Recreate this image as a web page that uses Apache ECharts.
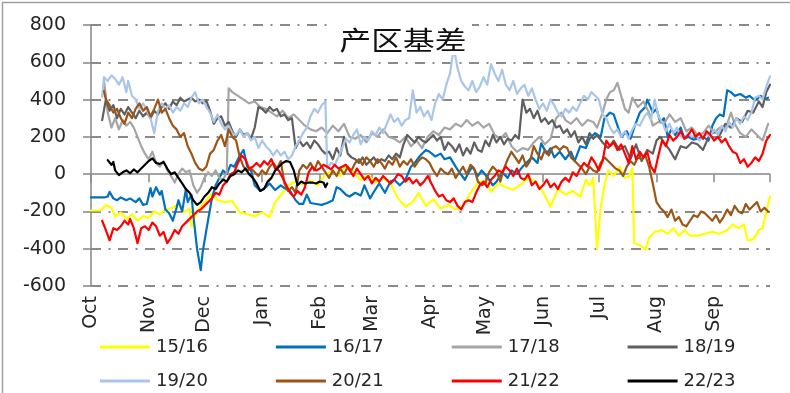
<!DOCTYPE html>
<html>
<head>
<meta charset="utf-8">
<script src="https://cdn.jsdelivr.net/npm/echarts@6/dist/echarts.min.js"></script>
<style>
  html, body { margin: 0; padding: 0; background: #ffffff; }
  #chart { width: 790px; height: 393px; }
</style>
</head>
<body>
<div id="chart"></div>
<script>
// Producing-area basis by season, x = day of the season counted from 1 Oct.
const seasonNames = ['15/16', '16/17', '17/18', '18/19', '19/20', '20/21', '21/22', '22/23'];
const monthNames = ['Oct', 'Nov', 'Dec', 'Jan', 'Feb', 'Mar', 'Apr', 'May', 'Jun', 'Jul', 'Aug', 'Sep'];
const monthStartDays = [0, 31, 61, 92, 123, 151, 182, 212, 243, 273, 304, 335];
const seasonEndDay = 365;
const yMin = -600, yMax = 800, yStep = 200;

const s1516 = [[0,-195],[5,-195],[8,-165],[11,-180],[13,-228],[16,-205],[19,-240],[22,-215],[25,-250],[28,-225],[31,-235],[34,-200],[37,-215],[40,-190],[44,-180],[47,-160],[50,-205],[53,-185],[54,-280],[57,-200],[61,-150],[65,-105],[68,-140],[72,-150],[76,-145],[80,-205],[84,-215],[88,-225],[92,-205],[96,-230],[99,-150],[103,-100],[106,-60],[110,-40],[114,-55],[118,-35],[122,-60],[126,0],[130,15],[134,-10],[137,50],[141,10],[145,-30],[149,-5],[153,-45],[157,-20],[161,-50],[165,-130],[169,-175],[173,-150],[176,-100],[180,-170],[184,-135],[188,-185],[192,-165],[196,-190],[200,-170],[204,-100],[208,-45],[212,-35],[215,-95],[219,-50],[223,-70],[227,-85],[231,-55],[235,-20],[239,-40],[243,-95],[247,-175],[251,-80],[255,-110],[259,-90],[263,-120],[266,-30],[268,-60],[270,-20],[272,-400],[274,-180],[276,-60],[278,20],[281,-10],[284,40],[287,-20],[289,-15],[291,30],[292,-370],[295,-380],[298,-405],[300,-340],[303,-310],[307,-300],[310,-320],[313,-290],[316,-330],[319,-300],[322,-330],[326,-330],[330,-320],[334,-310],[338,-320],[342,-300],[345,-270],[348,-290],[351,-270],[353,-355],[356,-350],[359,-300],[361,-290],[363,-200],[365,-120]];

const s1617 = [[0,-125],[4,-125],[7,-125],[9,-120],[10,-95],[12,-130],[14,-140],[16,-125],[19,-140],[21,-130],[24,-150],[26,-130],[28,-165],[30,-160],[32,-75],[33,-120],[35,-70],[37,-110],[38,-90],[40,-190],[42,-210],[44,-250],[46,-180],[47,-140],[49,-200],[51,-80],[52,-150],[54,-110],[55,-220],[57,-400],[59,-515],[60,-420],[62,-300],[63,-310],[65,-130],[67,-60],[69,-20],[71,20],[73,0],[75,50],[77,40],[80,100],[82,130],[84,40],[86,20],[88,-60],[91,-90],[94,-70],[96,-50],[99,-85],[102,-60],[104,-75],[107,-90],[110,-140],[112,-160],[114,-160],[116,-110],[118,-155],[121,-160],[124,-165],[127,-155],[130,-140],[132,-70],[134,-80],[137,-110],[139,-120],[142,-100],[145,-115],[147,-60],[150,-130],[153,-80],[155,-50],[158,-100],[161,-40],[163,-30],[166,-60],[169,-30],[172,40],[174,60],[177,100],[180,130],[182,120],[185,95],[188,110],[190,80],[193,90],[196,40],[198,10],[201,-30],[203,10],[205,40],[208,-10],[210,20],[213,-15],[216,-60],[218,-40],[221,10],[224,-20],[226,20],[229,0],[232,40],[234,60],[237,90],[240,60],[242,165],[245,110],[247,140],[249,90],[252,120],[255,80],[258,120],[260,70],[263,150],[266,140],[268,190],[271,220],[274,200],[276,300],[279,330],[281,320],[283,260],[285,200],[288,230],[290,190],[292,250],[295,330],[298,360],[299,400],[302,330],[304,350],[306,280],[308,300],[310,200],[312,240],[314,210],[317,250],[319,190],[321,200],[324,185],[326,190],[329,200],[332,180],[334,260],[336,300],[338,320],[340,310],[342,450],[344,440],[346,420],[349,430],[352,410],[354,420],[357,395],[360,420],[362,400],[364,410]];

const s1718 = [[7,500],[9,330],[11,250],[13,300],[15,240],[17,290],[19,260],[21,280],[23,250],[25,200],[27,150],[29,110],[31,80],[33,120],[35,60],[37,40],[39,70],[41,20],[43,-10],[45,-45],[47,0],[49,30],[51,10],[53,20],[55,-60],[57,-100],[59,-70],[61,-20],[63,10],[65,-10],[67,20],[69,-20],[71,-30],[73,10],[74,460],[76,440],[79,420],[82,400],[85,380],[88,390],[91,360],[94,350],[97,330],[100,310],[103,340],[106,300],[109,320],[112,290],[115,260],[118,240],[121,230],[124,250],[127,220],[130,260],[133,230],[136,270],[139,200],[142,190],[145,210],[148,170],[151,220],[154,200],[157,240],[160,200],[163,190],[166,170],[169,200],[172,150],[175,180],[178,140],[181,200],[184,230],[187,210],[190,250],[193,240],[196,270],[199,255],[202,290],[205,260],[208,280],[211,250],[214,270],[217,210],[220,190],[223,220],[226,150],[229,120],[232,140],[235,130],[238,170],[241,200],[244,160],[247,190],[250,300],[253,330],[255,290],[258,270],[261,300],[264,260],[267,290],[270,280],[272,250],[275,330],[277,400],[279,440],[281,450],[283,490],[285,420],[287,350],[289,330],[291,410],[294,360],[297,390],[300,330],[302,260],[305,280],[308,270],[311,320],[314,280],[317,300],[320,230],[323,250],[326,210],[329,220],[332,260],[335,220],[338,250],[341,240],[344,330],[346,270],[349,220],[352,200],[355,240],[358,210],[361,180],[364,270]];

const s1819 = [[6,290],[8,400],[10,340],[12,370],[14,300],[16,350],[18,320],[20,360],[22,330],[24,300],[26,340],[28,310],[30,330],[32,300],[34,340],[36,320],[38,360],[40,380],[42,350],[44,390],[46,370],[48,410],[50,390],[52,400],[54,410],[56,390],[58,400],[60,380],[62,395],[64,340],[66,270],[68,300],[70,310],[72,260],[74,280],[76,230],[78,200],[80,240],[82,210],[84,220],[86,190],[88,250],[90,360],[92,350],[94,330],[96,360],[98,340],[100,350],[102,310],[104,320],[106,290],[108,300],[110,140],[112,180],[114,150],[116,170],[118,140],[120,180],[122,160],[124,130],[126,110],[128,120],[130,80],[132,140],[134,100],[136,200],[138,110],[140,90],[142,80],[144,60],[146,90],[148,50],[150,70],[152,90],[154,60],[156,80],[158,70],[160,100],[162,80],[164,110],[166,90],[168,160],[170,210],[172,190],[174,170],[176,200],[178,180],[180,170],[182,190],[184,210],[186,180],[188,200],[190,130],[192,170],[194,150],[196,120],[198,160],[200,100],[202,140],[204,110],[206,170],[208,130],[210,120],[212,180],[214,150],[216,210],[218,170],[220,200],[222,160],[224,190],[226,180],[228,210],[230,190],[232,400],[234,330],[236,350],[238,300],[240,340],[242,280],[244,300],[246,270],[248,290],[250,250],[252,260],[254,220],[256,240],[258,200],[260,230],[262,170],[264,200],[266,160],[268,220],[270,190],[272,210],[275,170],[278,140],[281,180],[284,130],[287,150],[290,80],[293,160],[296,70],[299,130],[302,110],[304,180],[306,200],[308,170],[311,130],[314,80],[317,150],[320,140],[323,170],[326,160],[329,130],[332,200],[335,230],[338,210],[341,270],[344,250],[347,300],[350,280],[353,340],[356,330],[359,390],[361,360],[363,440],[365,480]];

const s1920 = [[6,415],[7,520],[9,500],[11,530],[13,510],[15,480],[17,520],[19,440],[20,500],[22,420],[24,400],[26,350],[28,380],[30,340],[32,300],[34,220],[36,340],[38,380],[40,350],[42,370],[44,330],[46,360],[48,340],[50,380],[52,360],[54,410],[56,440],[58,380],[60,400],[62,360],[64,330],[66,280],[68,320],[70,270],[72,240],[74,260],[76,220],[78,210],[80,240],[82,200],[84,220],[86,180],[88,200],[90,140],[92,180],[94,150],[96,130],[98,100],[100,130],[102,100],[104,120],[106,80],[108,100],[110,150],[112,180],[114,220],[116,250],[118,310],[120,350],[122,330],[124,370],[126,390],[127,30],[129,60],[131,50],[133,90],[135,140],[137,190],[139,170],[141,210],[143,240],[145,160],[147,200],[149,180],[151,230],[153,210],[155,250],[157,220],[159,270],[161,320],[163,280],[165,300],[167,260],[169,290],[171,300],[173,450],[175,330],[177,360],[179,310],[181,340],[183,290],[185,380],[187,430],[189,400],[191,480],[193,540],[195,680],[197,570],[199,500],[201,470],[203,450],[205,500],[207,440],[209,470],[211,520],[213,480],[215,590],[217,540],[219,500],[221,560],[223,480],[225,450],[227,500],[229,430],[231,460],[233,480],[235,420],[237,460],[239,400],[241,350],[243,380],[245,340],[247,400],[249,370],[251,330],[253,310],[255,350],[257,330],[259,360],[261,340],[263,380],[265,420],[267,400],[269,440],[271,420],[273,400],[275,320],[277,300],[279,250],[281,220],[283,240],[285,200],[287,230],[289,190],[291,240],[293,270],[295,260],[297,300],[299,330],[301,290],[303,400],[305,310],[307,280],[309,230],[311,270],[313,220],[315,250],[317,200],[319,190],[321,220],[323,200],[325,210],[327,180],[329,200],[331,220],[333,200],[335,240],[337,210],[339,260],[341,230],[343,280],[345,250],[347,300],[349,270],[351,310],[353,290],[355,330],[357,410],[359,420],[361,400],[363,470],[365,525]];

const s2021 = [[7,445],[8,400],[10,370],[12,330],[14,350],[16,300],[18,270],[20,330],[22,300],[24,350],[26,380],[28,340],[30,360],[32,310],[34,350],[36,400],[38,330],[40,350],[42,300],[44,260],[46,240],[48,200],[50,220],[52,150],[54,110],[56,60],[58,30],[60,20],[62,40],[64,110],[66,130],[68,180],[70,210],[72,150],[74,240],[76,200],[78,180],[80,90],[82,40],[84,20],[86,30],[88,10],[90,-10],[92,20],[94,0],[96,40],[98,60],[100,30],[102,70],[104,-50],[106,-90],[108,-70],[110,-100],[112,20],[114,50],[116,30],[118,60],[120,20],[122,70],[124,40],[126,10],[128,-20],[130,20],[132,-10],[134,30],[136,0],[138,40],[140,20],[142,60],[144,80],[146,50],[148,90],[150,70],[152,40],[154,80],[156,60],[158,30],[160,70],[162,50],[164,90],[166,40],[168,70],[170,50],[172,80],[174,40],[176,70],[178,90],[180,80],[182,60],[184,20],[186,-10],[188,30],[190,10],[192,0],[194,30],[196,-20],[198,10],[200,40],[202,0],[204,50],[206,30],[208,-40],[210,-60],[212,-50],[214,10],[216,40],[218,20],[220,-40],[222,30],[224,80],[226,120],[228,90],[230,60],[232,100],[234,40],[236,70],[238,150],[240,110],[242,80],[244,130],[246,100],[248,140],[250,150],[252,130],[254,150],[256,140],[258,90],[260,70],[262,50],[264,30],[266,0],[268,40],[270,20],[272,10],[274,60],[276,90],[278,70],[280,50],[282,30],[284,20],[286,-10],[288,40],[290,70],[292,50],[294,90],[296,80],[298,100],[300,40],[302,-50],[304,-150],[306,-180],[308,-200],[310,-230],[312,-190],[314,-250],[316,-230],[318,-270],[320,-280],[322,-250],[324,-220],[326,-230],[328,-200],[330,-210],[332,-230],[334,-250],[336,-220],[338,-260],[340,-230],[342,-190],[344,-220],[346,-170],[348,-200],[350,-210],[352,-160],[354,-190],[356,-170],[358,-150],[360,-200],[362,-180],[364,-200]];

const s2122 = [[6,-250],[8,-300],[10,-355],[12,-290],[14,-300],[16,-280],[18,-250],[20,-270],[21,-240],[23,-290],[25,-370],[27,-290],[29,-280],[31,-300],[33,-260],[35,-280],[37,-330],[39,-310],[41,-370],[43,-340],[45,-300],[47,-320],[49,-280],[51,-260],[53,-240],[55,-220],[57,-200],[59,-190],[61,-170],[63,-150],[65,-130],[67,-100],[69,-110],[71,-60],[73,-40],[75,0],[77,10],[79,60],[81,100],[83,80],[85,30],[87,40],[89,60],[91,40],[93,70],[95,50],[97,80],[99,30],[101,20],[103,-20],[105,-60],[107,-100],[109,-120],[111,-90],[113,-110],[115,-70],[117,10],[119,40],[121,20],[123,30],[125,50],[127,40],[129,25],[131,50],[133,30],[135,40],[137,50],[139,20],[141,-10],[143,30],[145,0],[147,-30],[149,-10],[151,-50],[153,-20],[155,-40],[157,-10],[159,-30],[161,-50],[163,-30],[165,0],[167,-10],[169,-40],[171,-20],[173,-50],[175,-30],[177,-60],[179,-40],[181,-10],[183,-50],[185,-90],[187,-120],[189,-110],[191,-140],[193,-150],[195,-130],[197,-170],[199,-190],[201,-150],[203,-140],[205,-150],[207,-100],[209,-60],[211,-40],[213,-70],[215,-30],[217,-10],[219,20],[221,10],[223,40],[225,20],[227,-10],[229,30],[231,-20],[233,-30],[235,0],[237,-60],[239,-40],[241,-80],[243,-60],[245,-30],[247,-70],[249,-50],[251,-80],[253,-40],[255,-20],[257,-40],[259,10],[261,-10],[263,30],[265,60],[267,40],[269,90],[271,60],[273,20],[275,70],[277,180],[279,150],[281,170],[283,130],[285,160],[287,110],[289,60],[291,150],[293,80],[295,120],[297,90],[299,120],[301,40],[303,10],[305,100],[307,180],[309,150],[311,210],[313,180],[315,200],[317,230],[319,190],[321,210],[323,240],[325,200],[327,220],[329,190],[331,230],[333,210],[335,180],[337,200],[339,170],[341,190],[343,150],[345,120],[347,110],[349,60],[351,80],[353,40],[355,60],[357,90],[359,70],[361,110],[363,180],[365,210]];

const s2223 = [[9,75],[10,70],[11,50],[12,65],[13,20],[14,10],[15,-5],[17,10],[19,20],[21,5],[23,25],[25,10],[27,30],[29,50],[31,70],[33,85],[35,60],[37,55],[39,65],[41,30],[43,0],[45,10],[47,-20],[49,-50],[51,-80],[53,-100],[55,-140],[57,-165],[59,-150],[61,-120],[63,-100],[65,-70],[67,-80],[69,-50],[71,-30],[73,-40],[75,-10],[77,0],[79,20],[81,10],[83,30],[85,0],[87,-20],[89,-50],[91,-90],[93,-80],[95,-40],[97,-20],[99,20],[101,40],[103,60],[105,70],[107,65],[109,20],[111,-60],[113,-40],[115,-50],[117,-45],[119,-45],[121,-50],[123,-40],[125,-45],[126,-70],[127,-50]];

const seasonData = [s1516, s1617, s1718, s1819, s1920, s2021, s2122, s2223];
const seasonColors = ['#FFFF00', '#0070C0', '#A5A5A5', '#5F5F5F', '#A9C6E8', '#9C5516', '#FF0000', '#000000'];

const axisGray = '#868686';
const gridGray = '#8A8A8A';
const labelColor = '#262626';
const latinFont = '"DejaVu Sans", sans-serif';

// Dash-dot grid lines on every 200 step, the zero line is left to the solid axis.
const splitColors = [];
for (let v = yMin; v <= yMax; v += yStep) splitColors.push(v === 0 ? 'rgba(0,0,0,0)' : gridGray);

const series = seasonNames.map((name, i) => ({
  name: name,
  type: 'line',
  xAxisIndex: 0,
  data: seasonData[i],
  showSymbol: false,
  symbol: 'none',
  lineStyle: { color: seasonColors[i], width: 2.2, cap: 'round', join: 'round' },
  itemStyle: { color: seasonColors[i] },
  emphasis: { disabled: true },
  z: 3
}));

const legendBase = {
  itemWidth: 50,
  itemHeight: 3,
  itemGap: 68,
  icon: 'rect',
  padding: 0,
  selectedMode: false,
  textStyle: { fontFamily: latinFont, fontSize: 18, color: labelColor, padding: [0, 0, 0, 1] }
};

const chart = echarts.init(document.getElementById('chart'), null, { renderer: 'canvas' });
chart.setOption({
  animation: false,
  backgroundColor: '#ffffff',
  grid: { left: 91, right: 20, top: 25, bottom: 107, containLabel: false },
  xAxis: [
    {
      type: 'value', min: 0, max: seasonEndDay,
      axisLine: { show: true, onZero: true, lineStyle: { color: axisGray, width: 1.5 } },
      axisTick: { show: true, inside: false, length: 8, lineStyle: { color: axisGray, width: 1.5 },
                  customValues: monthStartDays.concat([seasonEndDay]) },
      axisLabel: { show: false },
      splitLine: { show: false }
    },
    {
      type: 'value', min: 0, max: seasonEndDay, position: 'bottom',
      axisLine: { show: false, onZero: false },
      axisTick: { show: false },
      splitLine: { show: false },
      axisLabel: {
        show: true, rotate: 90, margin: 10,
        customValues: monthStartDays,
        fontFamily: latinFont, fontSize: 19, color: labelColor,
        formatter: (v) => monthNames[monthStartDays.indexOf(Math.round(v))] || ''
      }
    }
  ],
  yAxis: {
    type: 'value', min: yMin, max: yMax, interval: yStep,
    axisLine: { show: true, lineStyle: { color: axisGray, width: 1.5 } },
    axisTick: { show: true, inside: false, length: 8, lineStyle: { color: axisGray, width: 1.5 } },
    axisLabel: { fontFamily: latinFont, fontSize: 19, color: labelColor, margin: 25 },
    splitLine: { show: true, lineStyle: { color: splitColors, width: 2, type: [10, 7.5, 2, 7.5] } }
  },
  legend: [
    Object.assign({}, legendBase, { data: seasonNames.slice(0, 4), left: 100, top: 338 }),
    Object.assign({}, legendBase, { data: seasonNames.slice(4, 8), left: 100, top: 372 })
  ],
  graphic: [
    {
      type: 'rect', silent: true, z: 0,
      shape: { x: 2.5, y: 2.5, width: 900, height: 600 },
      style: { fill: 'none', stroke: '#A0A0A0', lineWidth: 1.5 }
    },
    {
      type: 'rect', silent: true, z: 10,
      shape: { x: 334, y: 19, width: 138, height: 36 },
      style: { fill: '#ffffff' }
    },
    {
      type: 'text', silent: true, z: 11,
      x: 403, y: 40, scaleX: 1.22,
      style: {
        text: '产区基差',
        font: '26px "Noto Sans CJK SC", sans-serif',
        fill: '#111111',
        textAlign: 'center', textVerticalAlign: 'middle'
      }
    }
  ],
  series: series
});
</script>
</body>
</html>
